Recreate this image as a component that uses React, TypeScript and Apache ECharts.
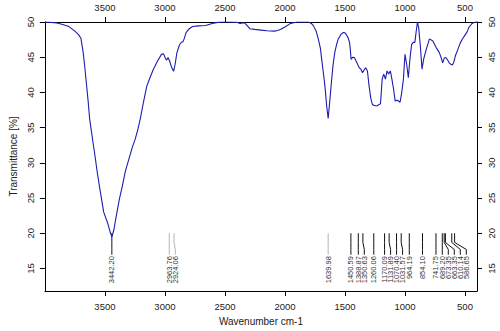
import React, { useEffect, useRef } from "react";
import * as echarts from "echarts";

// Spectrum trace (wavenumber cm-1, transmittance %)
const wavenumbers = [
  4000, 3950, 3900, 3859, 3800, 3750, 3720, 3700, 3682, 3670, 3655, 3640, 3627, 3600, 3587, 3565, 3546, 3510,
  3478, 3455, 3442, 3425, 3410, 3380, 3355, 3330, 3301, 3270, 3247, 3225, 3206, 3180, 3151, 3120, 3096, 3060,
  3029, 3012, 2995, 2985, 2974, 2962, 2945, 2928, 2915, 2900, 2880, 2865, 2850, 2840, 2824, 2800, 2770, 2720,
  2661, 2606, 2560, 2524, 2450, 2400, 2375, 2340, 2320, 2293, 2252, 2200, 2150, 2089, 2060, 2034, 2000, 1953,
  1899, 1803, 1780, 1762, 1740, 1721, 1705, 1694, 1680, 1667, 1652, 1640, 1628, 1613, 1600, 1585, 1570, 1558,
  1535, 1517, 1500, 1490, 1475, 1462, 1455, 1449, 1435, 1422, 1408, 1395, 1381, 1367, 1354, 1340, 1327, 1313,
  1299, 1285, 1272, 1250, 1231, 1215, 1204, 1190, 1177, 1163, 1149, 1136, 1122, 1109, 1095, 1082, 1068, 1054,
  1041, 1027, 1013, 1000, 986, 972, 959, 945, 931, 918, 904, 896, 886, 872, 858, 845, 823, 796, 768, 741, 714,
  700, 686, 672, 659, 645, 632, 618, 605, 595, 580, 564, 540, 523, 496, 482, 469, 455, 441, 414, 400,
];
const transmittance = [
  50.0, 49.95, 49.85, 49.67, 49.35, 48.7, 48.2, 47.7, 45.8, 44.0, 41.4, 38.8, 36.2, 33.0, 31.5, 28.8, 26.7, 23.0,
  21.5, 20.1, 19.5, 20.5, 22.0, 24.8, 26.7, 28.8, 30.5, 32.3, 33.4, 34.8, 36.2, 38.5, 40.9, 42.3, 43.3, 44.5,
  45.4, 45.5, 44.8, 44.6, 44.95, 44.5, 43.6, 43.0, 44.0, 45.65, 46.7, 47.1, 47.2, 47.6, 48.5, 49.0, 49.35, 49.45,
  49.5, 49.8, 49.95, 50.0, 50.0, 49.95, 49.8, 49.9, 49.6, 49.05, 48.95, 48.85, 48.75, 48.7, 48.8, 48.96, 49.3, 49.8,
  50.0, 50.0, 49.8, 49.45, 48.7, 47.5, 46.3, 44.7, 42.8, 40.9, 38.0, 36.3, 38.5, 41.4, 43.8, 45.65, 46.8, 47.5,
  48.2, 48.5, 48.45, 48.25, 47.8, 47.1, 46.0, 44.7, 45.0, 44.95, 44.5, 44.0, 43.5, 43.3, 42.8, 43.2, 43.5, 43.05,
  40.9, 39.2, 38.3, 38.1, 38.1, 38.3, 38.4, 41.9, 42.6, 41.9, 43.05, 42.6, 43.05, 41.9, 40.45, 38.8, 38.9, 38.8,
  38.6, 40.0, 41.9, 45.4, 44.0, 42.1, 44.7, 46.8, 47.1, 47.1, 49.0, 50.0, 49.2, 46.6, 43.3, 44.7, 46.1, 47.6, 47.3, 46.4, 45.65,
  45.0, 44.2, 44.9, 44.95, 44.6, 44.2, 44.0, 43.9, 44.2, 45.2, 45.9, 47.0, 47.55, 48.25, 48.6, 49.2, 49.5, 49.8, 50.0, 50.0,
];
// Annotated peaks
const peakWavenumbers = [
  3442.2, 2963.76, 2924.06, 1639.98, 1450.59, 1388.87, 1350.63, 1260.06, 1170.09, 1131.89, 1070.4, 1031.57,
  964.19, 854.1, 741.75, 689.2, 673.35, 663.35, 610.14, 586.65,
];
const xTickValues = [500, 1000, 1500, 2000, 2500, 3000, 3500];
const yTickValues = [15, 20, 25, 30, 35, 40, 45, 50];

const X_MIN = 400;
const X_MAX = 4000;
const Y_MIN = 11.8;
const Y_MAX = 50;
const FAINT_PEAKS = new Set([2963.76, 2924.06, 1639.98]);
const FONT = "Liberation Sans, Arial, sans-serif";

export default function App() {
  const ref = useRef<HTMLDivElement>(null);
  useEffect(() => {
    document.body.style.margin = "0";
    if (!ref.current) return;
    const chart = echarts.init(ref.current, null, { renderer: "svg" });
    const lineData = wavenumbers.map((w, i) => [w, transmittance[i]]);
    const plain = (v: number) => String(v);

    const xBase = (position: "top" | "bottom") => ({
      type: "value" as const,
      position,
      min: X_MIN,
      max: X_MAX,
      inverse: true,
      axisLine: { show: true, onZero: false, lineStyle: { color: "#000", width: 1 } },
      axisTick: { show: true, customValues: xTickValues, length: 5, lineStyle: { color: "#000" } },
      axisLabel: { customValues: xTickValues, formatter: plain, margin: 10, fontSize: 9.5, color: "#222", fontFamily: FONT },
      splitLine: { show: false },
    });
    const yBase = (position: "left" | "right") => ({
      type: "value" as const,
      position,
      min: Y_MIN,
      max: Y_MAX,
      axisLine: { show: true, onZero: false, lineStyle: { color: "#000", width: 1 } },
      axisTick: { show: true, customValues: yTickValues, length: 5, lineStyle: { color: "#000" } },
      axisLabel: { customValues: yTickValues, formatter: plain, rotate: 90, margin: 9, fontSize: 9.5, color: "#222", fontFamily: FONT },
      splitLine: { show: false },
    });

    chart.setOption({
      animation: false,
      backgroundColor: "#fff",
      grid: { left: 37, right: 23, top: 22, bottom: 39 },
      xAxis: [
        {
          ...xBase("bottom"),
          name: "Wavenumber cm-1",
          nameLocation: "middle",
          nameGap: 25,
          nameTextStyle: { fontSize: 10, color: "#222", fontFamily: FONT },
        },
        xBase("top"),
      ],
      yAxis: [
        {
          ...yBase("left"),
          name: "Transmittance [%]",
          nameLocation: "middle",
          nameGap: 23,
          nameTextStyle: { fontSize: 10, color: "#222", fontFamily: FONT },
        },
        yBase("right"),
      ],
      series: [
        {
          type: "line",
          data: lineData,
          xAxisIndex: 0,
          yAxisIndex: 0,
          showSymbol: false,
          symbol: "none",
          lineStyle: { color: "#1c1cb0", width: 1.1 },
          z: 3,
        },
        {
          type: "custom",
          xAxisIndex: 0,
          yAxisIndex: 0,
          data: [[peakWavenumbers[0], 20]],
          z: 2,
          renderItem: (_params: any, api: any) => {
            const pts = peakWavenumbers.map((w) => ({ w, x: api.coord([w, 20])[0] as number, lx: 0 }));
            const sorted = [...pts].sort((a, b) => a.x - b.x);
            const gap = 6;
            let prev = -Infinity;
            sorted.forEach((p) => {
              p.lx = Math.max(p.x, prev + gap);
              prev = p.lx;
            });
            const yStart = api.coord([X_MIN, 20])[1];
            const yBend1 = api.coord([X_MIN, 18.7])[1];
            const yBend2 = api.coord([X_MIN, 17.7])[1];
            const yEnd = api.coord([X_MIN, 16.95])[1];
            const yText = api.coord([X_MIN, 16.75])[1];
            const children: any[] = [];
            pts.forEach((p) => {
              children.push({
                type: "polyline",
                shape: { points: [[p.x, yStart], [p.x, yBend1], [p.lx, yBend2], [p.lx, yEnd]] },
                style: { stroke: FAINT_PEAKS.has(p.w) ? "#b4b4b4" : "#111", lineWidth: 1, fill: "none" },
              });
              children.push({
                type: "text",
                x: p.lx,
                y: yText,
                rotation: Math.PI / 2,
                style: {
                  text: p.w.toFixed(2),
                  fontSize: 7.5,
                  fontFamily: FONT,
                  fill: "#333",
                  align: "right",
                  verticalAlign: "middle",
                },
              });
            });
            return { type: "group", children };
          },
        },
      ],
    });
    return () => chart.dispose();
  }, []);
  return <div ref={ref} style={{ width: 500, height: 331 }} />;
}
